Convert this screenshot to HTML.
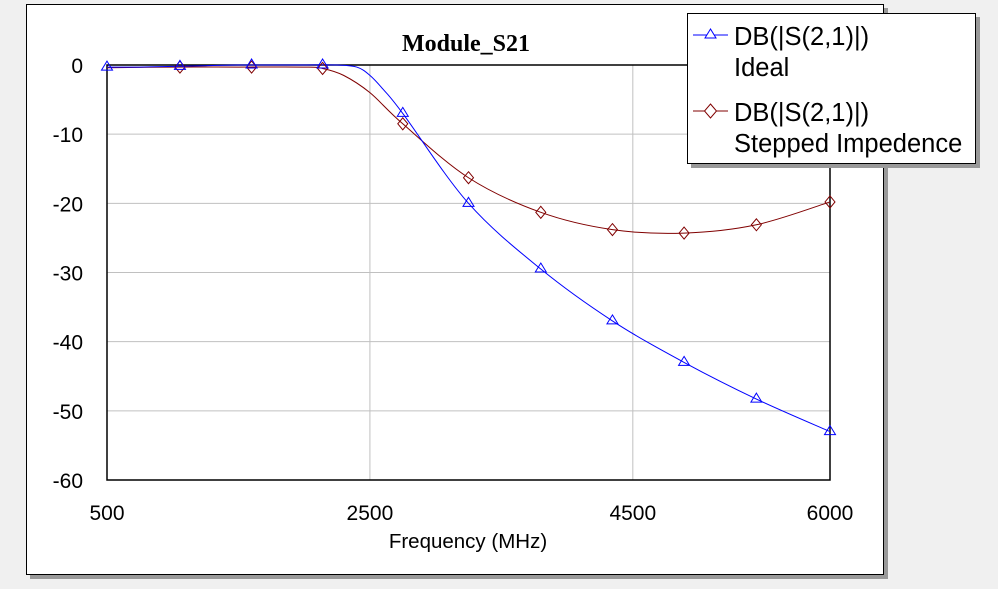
<!DOCTYPE html>
<html><head><meta charset="utf-8"><style>
body{margin:0;width:998px;height:584px;background:#f0f0f0;overflow:hidden;font-family:"Liberation Sans",sans-serif}
</style></head><body>
<svg width="998" height="584" xmlns="http://www.w3.org/2000/svg">
<rect x="30" y="8" width="858" height="571" fill="#999"/>
<rect x="26.5" y="4.5" width="857" height="570" fill="#fff" stroke="#000"/>
<text x="466" y="51" text-anchor="middle" font-family="Liberation Serif,serif" font-weight="bold" font-size="24">Module_S21</text>
<g id="grid"></g>
<g id="axes"></g>
<g id="series"></g>
<text x="468" y="548" text-anchor="middle" font-size="20.5">Frequency (MHz)</text>
<g>
<rect x="691" y="17" width="289" height="151" fill="#999"/>
<rect x="687.5" y="13.5" width="288" height="150" fill="#fff" stroke="#000"/>
<line x1="693" y1="35" x2="728" y2="35" stroke="#00f"/>
<polygon points="710.5,29 705,38 716,38" fill="#fff" stroke="#00f"/>
<text x="734" y="45" font-size="25.5">DB(|S(2,1)|)</text>
<text x="734" y="76" font-size="25.5">Ideal</text>
<line x1="693" y1="111" x2="728" y2="111" stroke="#800000"/>
<polygon points="710.5,104 716.5,111 710.5,118 704.5,111" fill="#fff" stroke="#800000"/>
<text x="734" y="121" font-size="25.5">DB(|S(2,1)|)</text>
<text x="734" y="152" font-size="25.5">Stepped Impedence</text>
</g>
</svg>
<script>
const xTicks=[500,2500,4500,6000];
const yTicks=[0,-10,-20,-30,-40,-50,-60];
const idealF=[500,750,1000,1250,1500,1750,2000,2250,2400,2500,2600,2750,3250,3800,4345,4890,5440,6000];
const idealV=[-0.3,-0.3,-0.2,-0.1,0,0,0,0,-0.3,-1.5,-3.5,-7,-20,-29.5,-37,-43,-48.3,-53];
const stepF=[500,1000,1500,2000,2140,2300,2500,2750,3250,3800,4345,4890,5440,6000];
const stepV=[-0.4,-0.3,-0.3,-0.3,-0.5,-1.5,-4,-8.5,-16.3,-21.3,-23.8,-24.3,-23.1,-19.8];
const idealMF=[500,1055,1600,2140,2750,3250,3800,4345,4890,5440,6000];
const idealMV=[-0.3,-0.2,0,0,-7,-20,-29.5,-37,-43,-48.3,-53];
const stepMF=[1055,1600,2140,2750,3250,3800,4345,4890,5440,6000];
const stepMV=[-0.3,-0.3,-0.5,-8.5,-16.3,-21.3,-23.8,-24.3,-23.1,-19.8];
const NS="http://www.w3.org/2000/svg";
const X=f=>107+(f-500)/5500*723;
const Y=v=>65+(-v)/60*415;
function mk(t,a,p){const e=document.createElementNS(NS,t);for(const k in a)e.setAttribute(k,a[k]);p.appendChild(e);return e;}
const grid=document.getElementById('grid'),axes=document.getElementById('axes'),ser=document.getElementById('series');
yTicks.forEach(v=>{
 if(v!==0&&v!==-60){const l=mk('line',{x1:107,x2:830,y1:Y(v),y2:Y(v),stroke:'#c0c0c0'},grid);
 
 }
 const t=mk('text',{x:83,y:Y(v)+8,'text-anchor':'end','font-size':21},axes);t.textContent=v;
 
 
});
xTicks.forEach(f=>{
 if(f!==500&&f!==6000){const l=mk('line',{x1:X(f),x2:X(f),y1:65,y2:480,stroke:'#c0c0c0'},grid);
 
 }
 const t=mk('text',{x:X(f),y:520,'text-anchor':'middle','font-size':21},axes);t.textContent=f;
 
 
});
const pr=mk('rect',{x:107,y:65,width:723,height:415,fill:'none',stroke:'#000','stroke-width':1.5},axes);


function smooth(F,V){const p=F.map((f,i)=>[X(f),Y(V[i])]);let d='M'+p[0];for(let i=0;i<p.length-1;i++){const a=p[i-1]||p[i],b=p[i],c=p[i+1],e=p[i+2]||c;d+=` C${b[0]+(c[0]-a[0])/6},${b[1]+(c[1]-a[1])/6} ${c[0]-(e[0]-b[0])/6},${c[1]-(e[1]-b[1])/6} ${c[0]},${c[1]}`;}return d;}
const sl=mk('path',{d:smooth(stepF,stepV),fill:'none',stroke:'#800000'},ser);


const il=mk('path',{d:smooth(idealF,idealV),fill:'none',stroke:'#00f'},ser);


stepMF.forEach((f,i)=>{const x=X(f),y=Y(stepMV[i]);
 const m=mk('polygon',{points:`${x},${y-6} ${x+5},${y} ${x},${y+6} ${x-5},${y}`,fill:'none',stroke:'#800000'},ser);
 
 });
idealMF.forEach((f,i)=>{const x=X(f),y=Y(idealMV[i]);
 const m=mk('polygon',{points:`${x},${y-6} ${x+5.5},${y+3} ${x-5.5},${y+3}`,fill:'none',stroke:'#00f'},ser);
 
 });
</script>
</body></html>
